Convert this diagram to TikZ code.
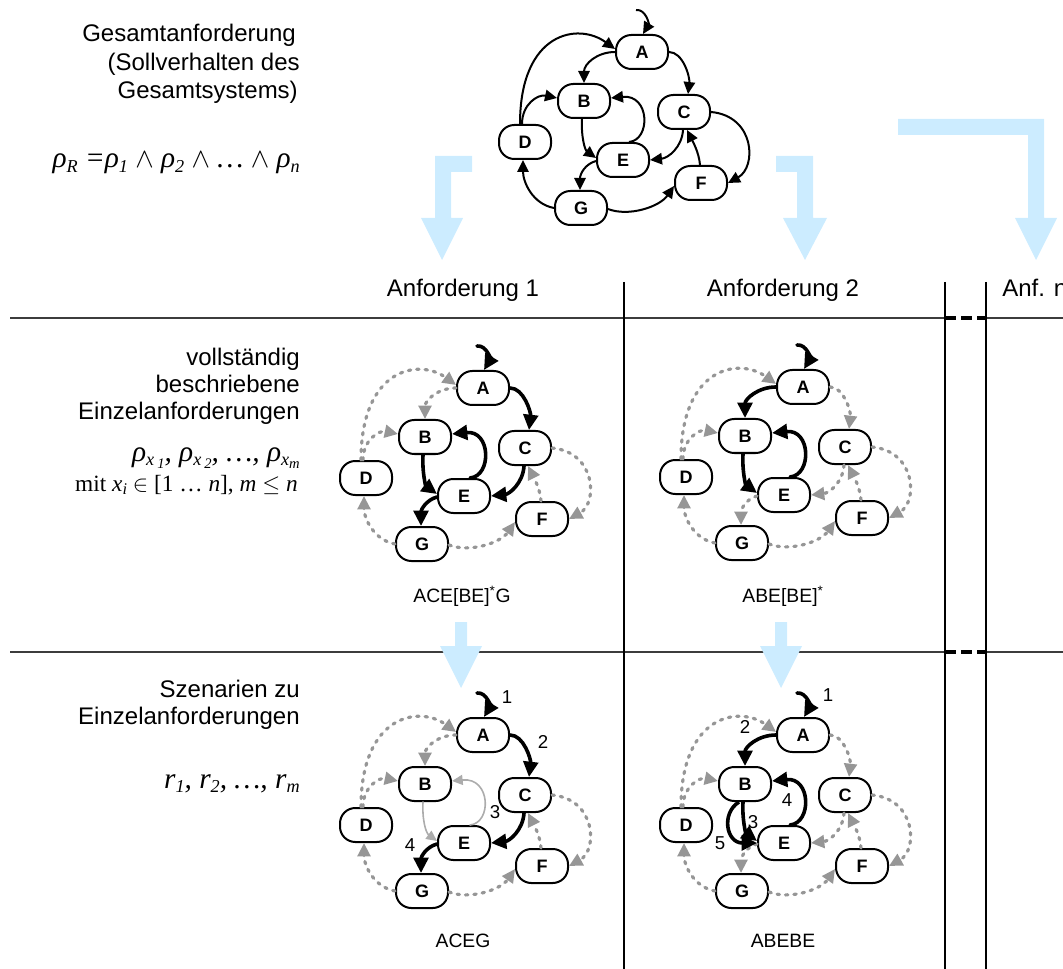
\documentclass[tikz,border=0pt]{standalone}
\usepackage{fontspec}
\setmainfont{Liberation Sans}
\newfontfamily\tms{Liberation Serif}
\usetikzlibrary{arrows.meta}

\definecolor{pale}{RGB}{204,236,255}
\definecolor{dgray}{RGB}{150,150,150}
\definecolor{lgray}{RGB}{172,172,172}
\definecolor{rulegray}{RGB}{60,60,60}

% lowered index set slightly smaller than the text around it
\newcommand\lowidx[2][0.62]{\raisebox{-0.16em}{\scalebox{#1}{#2}}}

\tikzset{
  stbox/.style={draw, line width=1.5pt, rounded corners=11.5pt, minimum width=39pt,
    minimum height=25.5pt, inner sep=0pt, fill=white,
    font=\bfseries\fontsize{13.5}{15}\selectfont},
  thinblk/.style={draw=black, solid, line width=1.5pt, -{Triangle[length=9pt,width=8.5pt]}},
  blk/.style={draw=black, solid, line width=2.7pt, -{Triangle[length=11.5pt,width=11pt]}},
  gdash/.style={draw=dgray, line width=2.4pt, dash pattern=on 1.8pt off 4.5pt,
    line cap=round, -{Triangle[length=10pt,width=9.5pt]}},
  gthin/.style={draw=lgray, solid, line width=1.2pt, -{Triangle[length=8pt,width=7.5pt]}},
  edgebase/.style=gdash,
  s-I/.style={}, s-AB/.style={}, s-AC/.style={}, s-DA/.style={}, s-DB/.style={},
  s-BE/.style={}, s-EB/.style={}, s-CE/.style={}, s-EG/.style={}, s-GD/.style={},
  s-GF/.style={}, s-FC/.style={}, s-CF/.style={},
  rowlbl/.style={anchor=base east, inner sep=0pt, font=\fontsize{18}{21}\selectfont},
  colhead/.style={anchor=base, inner sep=0pt, font=\fontsize{18}{21}\selectfont},
  caption/.style={anchor=base, inner sep=0pt, font=\fontsize{14.5}{16}\selectfont},
  stepnum/.style={inner sep=0pt, font=\fontsize{14}{16}\selectfont},
  hrule/.style={draw=rulegray, line width=1.4pt},
  vrule/.style={draw=black, line width=1pt},
  gapdash/.style={draw=black, line width=2.3pt, dash pattern=on 8pt off 4pt},
}

% the seven states of the automaton, placed relative to state A
\newcommand\graphnodes[1]{%
  \node[stbox] (#1A) at (0,0) {A};
  \node[stbox] (#1B) at (-58,49) {B};
  \node[stbox] (#1C) at (42,60) {C};
  \node[stbox] (#1D) at (-117,90) {D};
  \node[stbox] (#1E) at (-19,108) {E};
  \node[stbox] (#1F) at (59,131) {F};
  \node[stbox] (#1G) at (-61,156) {G};
  \coordinate (#1I) at (-6,-42);
}

% the transitions; each one takes the base style plus its own override
\newcommand\graphedges[1]{%
  \draw[edgebase,s-I] (#1I) .. controls +(10,-1) and +(6,-10) .. ([shift={(1,0)}]#1A.north);
  \draw[edgebase,s-DA] ([shift={(-5,0)}]#1D.north) .. controls +(0,-92) and +(-37,-27) .. ([shift={(0,-3)}]#1A.west);
  \draw[edgebase,s-DB] ([shift={(-3,0)}]#1D.north) .. controls +(0,-20) and +(-19,-4) .. ([shift={(0,-3)}]#1B.west);
  \draw[edgebase,s-GD] (#1G.west) .. controls +(-21.5,-4) and +(0,22) .. ([shift={(-2,0)}]#1D.south);
  \draw[edgebase,s-GF] ([shift={(0,1)}]#1G.east) .. controls +(20.5,8) and +(-14.5,21) .. ([shift={(0,3)}]#1F.west);
  \draw[edgebase,s-FC] ([shift={(-1,0)}]#1F.north) .. controls +(-1,-13) and +(5,10) .. ([shift={(3,0)}]#1C.south);
  \draw[edgebase,s-CF] (#1C.east) .. controls +(44,4) and +(29,-16) .. (#1F.east);
  \draw[edgebase,s-AB] (#1A.west) .. controls +(-18,0) and +(0,-19) .. (#1B.north);
  \draw[edgebase,s-AC] (#1A.east) .. controls +(14,0) and +(2,-17) .. ([shift={(4,0)}]#1C.north);
  \draw[edgebase,s-CE] ([shift={(-1,0)}]#1C.south) .. controls +(-1,17) and +(18.5,-2) .. (#1E.east);
  \draw[edgebase,s-EG] ([shift={(0,1)}]#1E.west) .. controls +(-11,3) and +(0,-16) .. ([shift={(-1,0)}]#1G.north);
  \draw[edgebase,s-BE] ([shift={(-2,0)}]#1B.south) .. controls +(-1,18) and +(-11,-8) .. ([shift={(0,-2)}]#1E.west);
  \draw[edgebase,s-EB] ([shift={(6,0)}]#1E.north) .. controls +(22,-2) and +(39,-4) .. ([shift={(0,-3)}]#1B.east);
}

\begin{document}
\begin{tikzpicture}[x=0.75pt,y=-0.75pt]
\useasboundingbox (0,0) rectangle (1063,969);

% table rules
\draw[hrule] (10,318) -- (945,318);
\draw[hrule] (986,318) -- (1063,318);
\draw[gapdash] (945,318) -- (986,318);
\draw[hrule] (10,652) -- (945,652);
\draw[hrule] (986,652) -- (1063,652);
\draw[gapdash] (945,652) -- (986,652);
\draw[vrule] (624,282) -- (624,969);
\draw[vrule] (945,282) -- (945,969);
\draw[vrule] (986,282) -- (986,969);

% row labels on the left
\node[rowlbl] (g1) at (296,42) {Gesamtanforderung};
\node[rowlbl] (g2) at (300,71) {(Sollverhalten des};
\node[rowlbl] (g3) at (298,99) {Gesamtsystems)};
\node[rowlbl] (g4) at (300,168) {\tms\itshape\fontsize{22}{24}\selectfont
  ρ\lowidx{R} =ρ\lowidx{1} $\wedge$ ρ\lowidx{2} $\wedge$ … $\wedge$ ρ\lowidx{n}};

\node[rowlbl] (v1) at (300,366) {vollständig};
\node[rowlbl] (v2) at (300,393) {beschriebene};
\node[rowlbl] (v3) at (300,420) {Einzelanforderungen};
\node[rowlbl] (v4) at (300,461) {\tms\itshape\fontsize{22}{24}\selectfont
  ρ\lowidx{x\,\lowidx[0.8]{1}}, ρ\lowidx{x\,\lowidx[0.8]{2}}, …, ρ\lowidx{x\lowidx[0.8]{m}}};
\node[rowlbl] (v5) at (298,491) {\tms\fontsize{17.5}{20}\selectfont
  mit \textit{x}\lowidx[0.7]{\textit{i}} $\in$ [1 … \textit{n}], \textit{m} $\leq$ \textit{n}};

\node[rowlbl] (s1) at (300,697) {Szenarien zu};
\node[rowlbl] (s2) at (300,724) {Einzelanforderungen};
\node[rowlbl] (s3) at (300,788) {\tms\itshape\fontsize{22}{24}\selectfont
  r\lowidx{1}, r\lowidx{2}, …, r\lowidx{m}};

% column headings
\node[colhead] (h1) at (463,297) {Anforderung 1};
\node[colhead] (h2) at (783,297) {Anforderung 2};
\node[colhead, anchor=base west] (h3) at (1002,297) {Anf. n};

% refinement arrows
\fill[pale] (472,156) -- (435,156) -- (435,218) -- (421,218) -- (442,260) -- (463,218)
  -- (451,218) -- (451,172) -- (472,172) -- cycle;
\fill[pale] (776,156) -- (813,156) -- (813,218) -- (827,218) -- (805,260) -- (783,218)
  -- (797,218) -- (797,172) -- (776,172) -- cycle;
\fill[pale] (898,119) -- (1044,119) -- (1044,218) -- (1057,218) -- (1036,260) -- (1015,218)
  -- (1028,218) -- (1028,135) -- (898,135) -- cycle;
\fill[pale] (455,622) -- (467,622) -- (467,646) -- (482,646) -- (461,688) -- (440,646)
  -- (455,646) -- cycle;
\fill[pale] (775,622) -- (787,622) -- (787,646) -- (802,646) -- (781,688) -- (760,646)
  -- (775,646) -- cycle;

% overall automaton
\begin{scope}[shift={(642,52)}] \graphnodes{t} \end{scope}
\begin{scope}[edgebase/.style=thinblk] \graphedges{t} \end{scope}

% requirement 1: ACE[BE]*G
\begin{scope}[shift={(483,388)}] \graphnodes{p} \end{scope}
\begin{scope}[s-I/.style=blk, s-AC/.style=blk, s-CE/.style=blk, s-EB/.style=blk,
  s-BE/.style=blk, s-EG/.style=blk] \graphedges{p} \end{scope}
\node[caption] (pc) at (462,602) {ACE[BE]\textsuperscript{*}G};

% requirement 2: ABE[BE]*
\begin{scope}[shift={(803,387)}] \graphnodes{q} \end{scope}
\begin{scope}[s-I/.style=blk, s-AB/.style=blk, s-BE/.style=blk, s-EB/.style=blk]
  \graphedges{q} \end{scope}
\node[caption] (qc) at (783,602) {ABE[BE]\textsuperscript{*}};

% scenario ACEG
\begin{scope}[shift={(483,735)}]
  \graphnodes{r}
  \node[stepnum] (r1) at (24,-38) {1};
  \node[stepnum] (r2) at (60,7) {2};
  \node[stepnum] (r3) at (12,77) {3};
  \node[stepnum] (r4) at (-73,110) {4};
\end{scope}
\begin{scope}[s-I/.style=blk, s-AC/.style=blk, s-CE/.style=blk, s-EG/.style=blk,
  s-BE/.style=gthin, s-EB/.style=gthin] \graphedges{r} \end{scope}
\node[caption] (rc) at (463,947) {ACEG};

% scenario ABEBE
\begin{scope}[shift={(803,735)}]
  \graphnodes{s}
  \node[stepnum] (s1n) at (25,-40) {1};
  \node[stepnum] (s2n) at (-58,-8) {2};
  \node[stepnum] (s3n) at (-50,87) {3};
  \node[stepnum] (s4n) at (-16,65) {4};
  \node[stepnum] (s5n) at (-83,108) {5};
\end{scope}
\begin{scope}[s-I/.style=blk, s-AB/.style=blk, s-BE/.style=blk, s-EB/.style=blk]
  \graphedges{s} \end{scope}
\draw[blk] ([shift={(-6,0)}]sB.south) .. controls +(-18,11) and +(-31,0) .. (sE.west);
\node[caption] (sc) at (783,947) {ABEBE};

\end{tikzpicture}
\end{document}
